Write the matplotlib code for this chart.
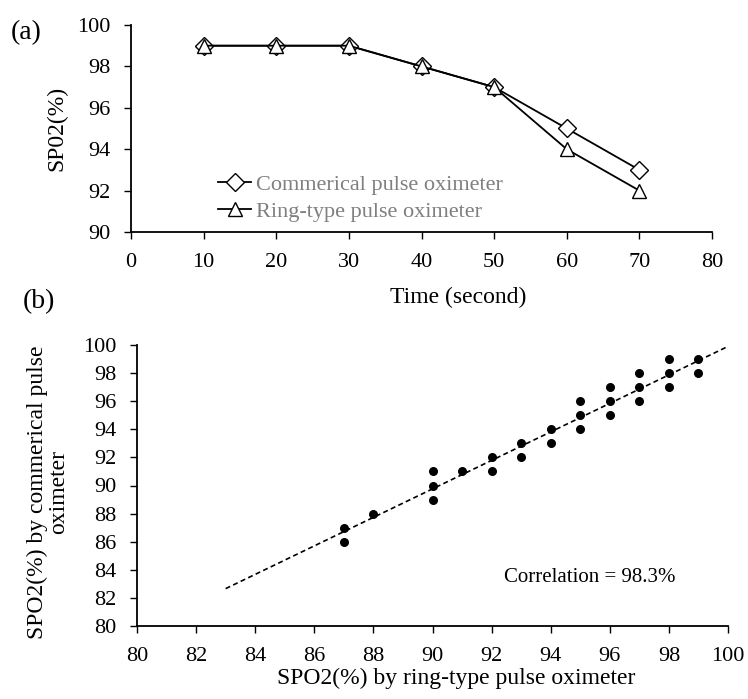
import matplotlib
matplotlib.use("Agg")
import matplotlib.pyplot as plt
import numpy as np

plt.rcParams['font.family'] = ['Liberation Serif', 'DejaVu Serif']

# ---- data panel (a)
time_s = [10, 20, 30, 40, 50, 60, 70]
commercial = [99, 99, 99, 98, 97, 95, 93]
ring = [99, 99, 99, 98, 97, 94, 92]

# ---- data panel (b)
ring_x = [87, 87, 88, 90, 90, 90, 91, 92, 92, 93, 93, 94, 94,
          95, 95, 95, 96, 96, 96, 97, 97, 97, 98, 98, 98, 99, 99]
comm_y = [87, 86, 88, 91, 90, 89, 91, 92, 91, 93, 92, 94, 93,
          96, 95, 94, 97, 96, 95, 98, 97, 96, 99, 98, 97, 99, 98]
fit_range = [83, 100]
corr_text = "Correlation = 98.3%"

W, H = 748, 699
fig = plt.figure(figsize=(W/100, H/100), dpi=100)

def px_axes(l, r, t, b):
    return fig.add_axes([l/W, 1-b/H, (r-l)/W, (b-t)/H])

TF = 16   # tick font
LF = 17   # label font

def style(ax):
    for s in ['top', 'right']:
        ax.spines[s].set_visible(False)
    for s in ['left', 'bottom']:
        ax.spines[s].set_linewidth(1.3)
    ax.tick_params(direction='out', length=5, width=1.0, labelsize=TF, pad=10)

# ---- panel (a)
ax1 = px_axes(131, 712, 25, 232)
ax1.plot(time_s, commercial, color='black', lw=1.3, marker='D', markersize=9,
         markerfacecolor='white', markeredgecolor='black', markeredgewidth=1.0,
         label='Commerical pulse oximeter')
ax1.plot(time_s, ring, color='black', lw=1.3, marker='^', markersize=10,
         markerfacecolor='white', markeredgecolor='black', markeredgewidth=1.0,
         label='Ring-type pulse oximeter')
ax1.set_xlim(0, 80)
ax1.set_ylim(90, 100)
ax1.set_xticks(range(0, 81, 10))
ax1.set_yticks(range(90, 101, 2))
style(ax1)
leg = ax1.legend(loc='center left', bbox_to_anchor=(218/W, 1-198/H),
                 bbox_transform=fig.transFigure, frameon=False, fontsize=16,
                 labelcolor='#7f7f7f', borderpad=0, handlelength=1.5,
                 handletextpad=0.2, labelspacing=0.28, borderaxespad=0)

fig.text(57/W, 1-128/H, 'SP02(%)', rotation=90, ha='center', va='center', fontsize=LF)
fig.text(458/W, 1-297/H, 'Time (second)', ha='center', va='center', fontsize=LF)
fig.text(26/W, 1-33/H, '(a)', ha='center', va='center', fontsize=20)
fig.text(39/W, 1-302/H, '(b)', ha='center', va='center', fontsize=20)

# ---- panel (b)
ax2 = px_axes(137, 728, 345, 626)
ax2.scatter(ring_x, comm_y, s=30, color='black', zorder=3)
coef = np.polyfit(ring_x, comm_y, 1)
fx = np.array(fit_range, dtype=float)
ax2.plot(fx, np.polyval(coef, fx), color='black', lw=1.2, ls=(0, (3, 2)))
ax2.set_xlim(80, 100)
ax2.set_ylim(80, 100)
ax2.set_xticks(range(80, 101, 2))
ax2.set_yticks(range(80, 101, 2))
style(ax2)
ax2.text(590/W, 1-578/H, corr_text, transform=fig.transFigure, ha='center',
         va='center', fontsize=15)

fig.text(456/W, 1-678/H, 'SPO2(%) by ring-type pulse oximeter', ha='center',
         va='center', fontsize=LF)
fig.text(48/W, 1-492/H, 'SPO2(%) by commerical pulse\noximeter', rotation=90,
         ha='center', va='center', fontsize=LF, linespacing=1.05)

fig.savefig('out.png', dpi=100)
